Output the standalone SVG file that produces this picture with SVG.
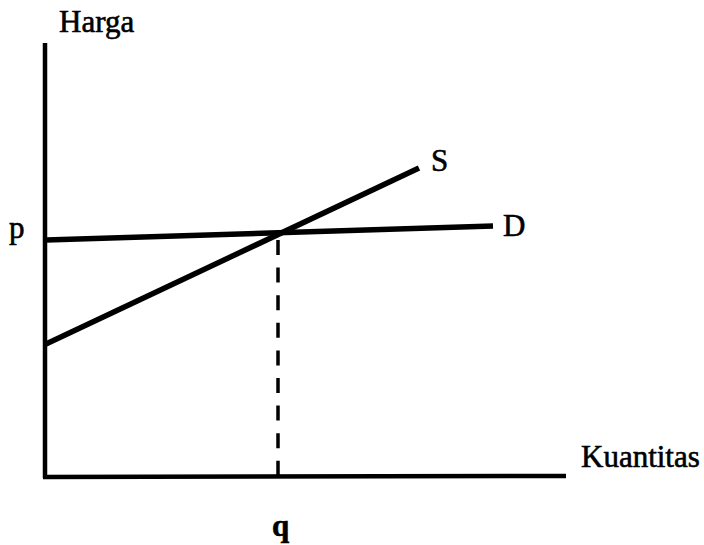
<svg xmlns="http://www.w3.org/2000/svg" width="704" height="545" viewBox="0 0 704 545">
<style>
.ax{stroke:#000;stroke-width:4.5;fill:none;stroke-linecap:butt}
.ln{stroke:#000;stroke-width:5.5;fill:none;stroke-linecap:butt}
.dash{stroke:#000;stroke-width:3.5;fill:none;stroke-dasharray:15 12.6}
.t{font-family:"Liberation Serif","Times New Roman",serif;font-size:31px;fill:#000;stroke:#000;stroke-width:0.6}
</style>
<rect width="704" height="545" fill="#fff"/>
<g id="connectors">
<line class="ax" x1="45" y1="43" x2="45" y2="478"/>
<line class="ax" x1="43" y1="477" x2="566" y2="476"/>
<line class="dash" x1="278" y1="240" x2="278" y2="477"/>
<line class="ln" x1="46" y1="240" x2="493" y2="226"/>
<line class="ln" x1="46" y1="344" x2="419" y2="168"/>
</g>
<g id="label-harga"><text class="t" x="59" y="32">Harga</text></g>
<g id="label-p"><text class="t" x="9" y="238">p</text></g>
<g id="label-s"><text class="t" x="431" y="171">S</text></g>
<g id="label-d"><text class="t" x="503" y="236">D</text></g>
<g id="label-kuantitas"><text class="t" x="581" y="467">Kuantitas</text></g>
<g id="label-q"><text class="t" x="272" y="536" font-weight="bold">q</text></g>
</svg>
